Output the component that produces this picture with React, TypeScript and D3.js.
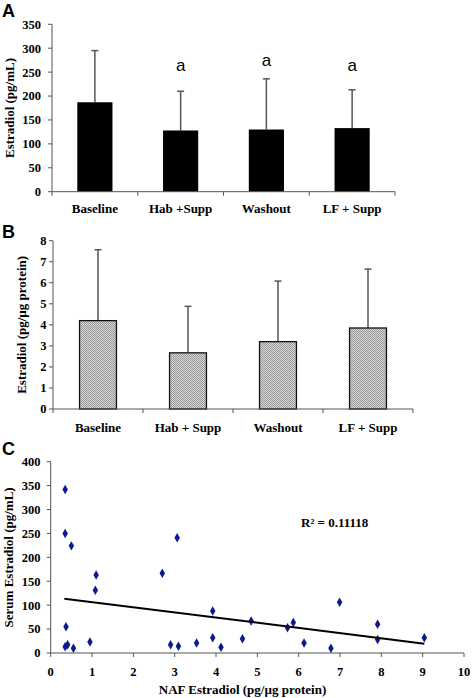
import React from "react";
import * as d3 from "d3";

// Panel A data
const catsA = ["Baseline", "Hab +Supp", "Washout", "LF + Supp"];
const meanA = [187, 128, 130, 133];
const errTopA = [295, 210, 236, 213];
const sigA = [null, 252, 263, 252];
const ticksA = [0, 50, 100, 150, 200, 250, 300, 350];

// Panel B data
const catsB = ["Baseline", "Hab + Supp", "Washout", "LF + Supp"];
const meanB = [4.2, 2.67, 3.2, 3.85];
const errTopB = [7.57, 4.88, 6.08, 6.65];
const ticksB = [0, 1, 2, 3, 4, 5, 6, 7, 8];

// Panel C data
const naf = [0.35, 0.35, 0.5, 0.37, 0.35, 0.41, 0.55, 0.95, 1.1, 1.08, 2.7, 3.06, 2.9, 3.09, 3.53, 3.92, 3.92, 4.12, 4.64, 4.85, 5.73, 5.87, 6.13, 6.78, 6.99, 7.91, 7.91, 9.04];
const serum = [342, 250, 224, 55, 13, 17, 10, 23, 163, 131, 167, 241, 17, 14, 21, 88, 32, 12, 30, 67, 53, 64, 21, 10, 106, 60, 28, 32];
const trendIntercept = 117.2;
const trendSlope = -10.8;
const trendRange = [0.33, 9.04];
const ticksCx = [0, 1, 2, 3, 4, 5, 6, 7, 8, 9, 10];
const ticksCy = [0, 50, 100, 150, 200, 250, 300, 350, 400];
const r2Label = "R² = 0.11118";

const serif = "'Liberation Serif', 'Times New Roman', serif";
const sans = "'Liberation Sans', Arial, sans-serif";
const axisColor = "#555";

export default function App() {
  // Panel A scales
  const xA = d3.scaleBand<string>().domain(catsA).range([52, 395]).paddingInner(0.59).paddingOuter(0.295);
  const yA = d3.scaleLinear().domain([0, 350]).range([191.7, 24.3]);
  const bwA = xA.bandwidth();
  const stepA = xA.step();

  // Panel B scales
  const xB = d3.scaleBand<string>().domain(catsB).range([53, 413]).paddingInner(0.59).paddingOuter(0.295);
  const yB = d3.scaleLinear().domain([0, 8]).range([409, 240.7]);
  const bwB = xB.bandwidth();
  const stepB = xB.step();

  // Panel C scales
  const xC = d3.scaleLinear().domain([0, 10]).range([50.7, 464]);
  const yC = d3.scaleLinear().domain([0, 400]).range([653, 461.7]);
  const trendLine = d3.line<number>().x((d) => xC(d)).y((d) => yC(trendIntercept + trendSlope * d));
  const diamond = d3.symbol().type(d3.symbolDiamond).size(26)();

  return (
    <svg width={472} height={698} style={{ position: "absolute", left: 0, top: 0, background: "#fff" }}>
      <defs>
        <pattern id="dots" width={2} height={2} patternUnits="userSpaceOnUse">
          <rect width={2} height={2} fill="#d6d6d6" />
          <rect x={0} y={0} width={1} height={1} fill="#9a9a9a" />
          <rect x={1} y={1} width={1} height={1} fill="#9a9a9a" />
        </pattern>
      </defs>
      <rect width={472} height={698} fill="#fff" />

      {/* Panel labels */}
      <text x={2} y={17} fontFamily={sans} fontWeight="bold" fontSize={18}>A</text>
      <text x={2} y={238} fontFamily={sans} fontWeight="bold" fontSize={18}>B</text>
      <text x={2} y={455} fontFamily={sans} fontWeight="bold" fontSize={18}>C</text>

      {/* ===== Panel A ===== */}
      <g>
        {catsA.map((c, i) => {
          const cx = (xA(c) as number) + bwA / 2;
          return (
            <g key={c}>
              <line x1={cx} x2={cx} y1={yA(meanA[i])} y2={yA(errTopA[i])} stroke="#555" strokeWidth={1.5} />
              <line x1={cx - 3.5} x2={cx + 3.5} y1={yA(errTopA[i])} y2={yA(errTopA[i])} stroke="#555" strokeWidth={1.5} />
              <rect x={xA(c)} y={yA(meanA[i])} width={bwA} height={yA(0) - yA(meanA[i])} fill="#000" />
              {sigA[i] != null && (
                <text x={cx} y={yA(sigA[i] as number)} textAnchor="middle" fontFamily={sans} fontSize={17}>a</text>
              )}
              <text x={cx} y={213} textAnchor="middle" fontFamily={serif} fontWeight="bold" fontSize={13}>{c}</text>
            </g>
          );
        })}
        <line x1={52} x2={52} y1={yA(350)} y2={yA(0)} stroke={axisColor} strokeWidth={1} />
        <line x1={52} x2={395} y1={yA(0)} y2={yA(0)} stroke={axisColor} strokeWidth={1} />
        {ticksA.map((t) => (
          <g key={t}>
            <line x1={48} x2={52} y1={yA(t)} y2={yA(t)} stroke={axisColor} />
            <text x={41} y={yA(t)} dy="0.35em" textAnchor="end" fontFamily={serif} fontWeight="bold" fontSize={12.5}>{t}</text>
          </g>
        ))}
        {d3.range(catsA.length + 1).map((i) => (
          <line key={i} x1={52 + i * stepA} x2={52 + i * stepA} y1={yA(0)} y2={yA(0) + 4} stroke={axisColor} />
        ))}
        <text transform={`translate(9,${(yA(0) + yA(350)) / 2}) rotate(-90)`} textAnchor="middle" dominantBaseline="central" fontFamily={serif} fontWeight="bold" fontSize={13}>Estradiol (pg/mL)</text>
      </g>

      {/* ===== Panel B ===== */}
      <g>
        {catsB.map((c, i) => {
          const cx = (xB(c) as number) + bwB / 2;
          return (
            <g key={c}>
              <line x1={cx} x2={cx} y1={yB(meanB[i])} y2={yB(errTopB[i])} stroke="#555" strokeWidth={1.5} />
              <line x1={cx - 3.5} x2={cx + 3.5} y1={yB(errTopB[i])} y2={yB(errTopB[i])} stroke="#555" strokeWidth={1.5} />
              <rect x={xB(c)} y={yB(meanB[i])} width={bwB} height={yB(0) - yB(meanB[i])} fill="url(#dots)" stroke="#111" strokeWidth={1.3} />
              <text x={cx} y={432} textAnchor="middle" fontFamily={serif} fontWeight="bold" fontSize={13}>{c}</text>
            </g>
          );
        })}
        <line x1={53} x2={53} y1={yB(8)} y2={yB(0)} stroke={axisColor} strokeWidth={1} />
        <line x1={53} x2={413} y1={yB(0)} y2={yB(0)} stroke={axisColor} strokeWidth={1} />
        {ticksB.map((t) => (
          <g key={t}>
            <line x1={49} x2={53} y1={yB(t)} y2={yB(t)} stroke={axisColor} />
            <text x={46.5} y={yB(t)} dy="0.35em" textAnchor="end" fontFamily={serif} fontWeight="bold" fontSize={12.5}>{t}</text>
          </g>
        ))}
        {d3.range(catsB.length + 1).map((i) => (
          <line key={i} x1={53 + i * stepB} x2={53 + i * stepB} y1={yB(0)} y2={yB(0) + 4} stroke={axisColor} />
        ))}
        <text transform={`translate(21.5,${(yB(0) + yB(8)) / 2}) rotate(-90)`} textAnchor="middle" dominantBaseline="central" fontFamily={serif} fontWeight="bold" fontSize={13}>Estradiol (pg/µg protein)</text>
      </g>

      {/* ===== Panel C ===== */}
      <g>
        <line x1={xC(0)} x2={xC(0)} y1={yC(400)} y2={yC(0)} stroke={axisColor} strokeWidth={1} />
        <line x1={xC(0)} x2={xC(10)} y1={yC(0)} y2={yC(0)} stroke={axisColor} strokeWidth={1} />
        {ticksCy.map((t) => (
          <g key={t}>
            <line x1={xC(0) - 4} x2={xC(0)} y1={yC(t)} y2={yC(t)} stroke={axisColor} />
            <text x={40.5} y={yC(t)} dy="0.35em" textAnchor="end" fontFamily={serif} fontWeight="bold" fontSize={12.5}>{t}</text>
          </g>
        ))}
        {ticksCx.map((t) => (
          <g key={t}>
            <line x1={xC(t)} x2={xC(t)} y1={yC(0)} y2={yC(0) + 4} stroke={axisColor} />
            <text x={xC(t)} y={676} textAnchor="middle" fontFamily={serif} fontWeight="bold" fontSize={12.5}>{t}</text>
          </g>
        ))}
        {naf.map((x, i) => (
          <path key={i} d={diamond as string} transform={`translate(${xC(x)},${yC(serum[i])})`} fill="#0b1a8c" />
        ))}
        <path d={trendLine(trendRange) as string} stroke="#000" strokeWidth={2} fill="none" />
        <text x={301} y={527} fontFamily={serif} fontWeight="bold" fontSize={13}>{r2Label}</text>
        <text transform={`translate(8.5,${(yC(0) + yC(400)) / 2}) rotate(-90)`} textAnchor="middle" dominantBaseline="central" fontFamily={serif} fontWeight="bold" fontSize={13}>Serum Estradiol (pg/mL)</text>
        <text x={242.5} y={694} textAnchor="middle" fontFamily={serif} fontWeight="bold" fontSize={13}>NAF Estradiol (pg/µg protein)</text>
      </g>
    </svg>
  );
}
